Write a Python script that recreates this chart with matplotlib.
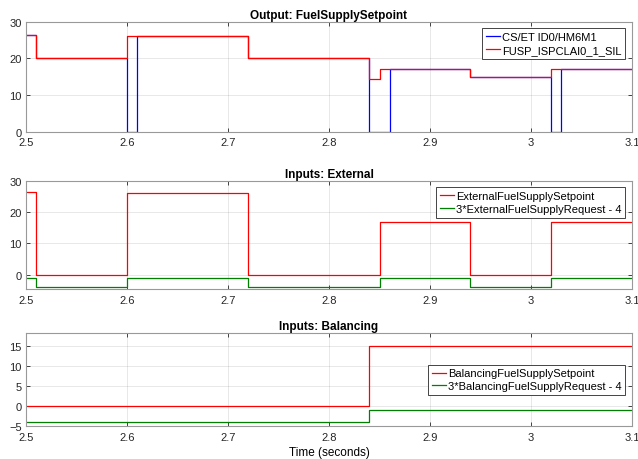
import matplotlib.pyplot as plt
import numpy as np

# step signals: breakpoints (time) and value held from each breakpoint on
t_out_ref = [2.5, 2.51, 2.6, 2.61, 2.72, 2.84, 2.86, 2.94, 3.02, 3.03, 3.1]
v_out_ref = [26.5, 20, 0, 26, 20, 0, 17, 15, 0, 17, 17]
t_out_sil = [2.5, 2.51, 2.6, 2.72, 2.84, 2.85, 2.94, 3.02, 3.1]
v_out_sil = [26.5, 20, 26, 20, 14.5, 17, 15, 17, 17]

t_ext = [2.5, 2.51, 2.6, 2.72, 2.85, 2.94, 3.02, 3.1]
v_ext_set = [26.5, 0, 26, 0, 17, 0, 17, 17]
v_ext_req = [-1, -4, -1, -4, -1, -4, -1, -1]

t_bal = [2.5, 2.84, 3.1]
v_bal_set = [0, 15, 15]
v_bal_req = [-4, -1, -1]

xticks = [2.5, 2.6, 2.7, 2.8, 2.9, 3.0, 3.1]
xlabels = ['2.5', '2.6', '2.7', '2.8', '2.9', '3', '3.1']

plt.rcParams['font.family'] = ['Liberation Sans', 'DejaVu Sans']

fig = plt.figure(figsize=(6.38, 4.6), dpi=100)
L, W = 26 / 638, 606 / 638
pos = [(22.7, 132.7), (181.7, 290), (334.3, 427.3)]
axes = [fig.add_axes([L, 1 - b / 460, W, (b - t) / 460]) for t, b in pos]

blue = (0, 0, 1)
red = (1, 0, 0)
green = (0, 0.5, 0)
dark = (0.15, 0.15, 0.15)


def style(ax, title, ylim, yticks):
    ax.set_xlim(2.5, 3.1)
    ax.set_ylim(*ylim)
    ax.set_xticks(xticks)
    ax.set_xticklabels(xlabels)
    ax.set_yticks(yticks)
    ax.set_title(title, fontsize=8.5, fontweight='bold', pad=3)
    ax.grid(True, color=dark, alpha=0.12, linewidth=0.6)
    ax.tick_params(direction='in', length=3, width=0.6, labelsize=8,
                   colors=dark, top=True, right=True)
    ax.tick_params(axis='x', pad=4)
    ax.tick_params(axis='y', pad=3)
    for s in ax.spines.values():
        s.set_color((0.6, 0.6, 0.6))
        s.set_linewidth(0.8)


def legend(ax, loc):
    leg = ax.legend(loc=loc, fontsize=8, fancybox=False, edgecolor=dark,
                    framealpha=1, borderpad=0.35, handlelength=1.3, handletextpad=0.15,
                    labelspacing=0.25, borderaxespad=0.6)
    leg.get_frame().set_linewidth(0.6)


ax = axes[0]
ax.plot(t_out_ref, v_out_ref, drawstyle='steps-post', color=blue, lw=0.9,
        label='CS/ET ID0/HM6M1')
ax.plot(t_out_sil, v_out_sil, drawstyle='steps-post', color=red, lw=0.9,
        label='FUSP_ISPCLAI0_1_SIL')
style(ax, 'Output: FuelSupplySetpoint', (0, 30), [0, 10, 20, 30])
legend(ax, 'upper right')

ax = axes[1]
ax.plot(t_ext, v_ext_set, drawstyle='steps-post', color=red, lw=0.9,
        label='ExternalFuelSupplySetpoint')
ax.plot(t_ext, v_ext_req, drawstyle='steps-post', color=green, lw=0.9,
        label='3*ExternalFuelSupplyRequest - 4')
style(ax, 'Inputs: External', (-4.5, 30), [0, 10, 20, 30])
legend(ax, 'upper right')

ax = axes[2]
ax.plot(t_bal, v_bal_set, drawstyle='steps-post', color=red, lw=0.9,
        label='BalancingFuelSupplySetpoint')
ax.plot(t_bal, v_bal_req, drawstyle='steps-post', color=green, lw=0.9,
        label='3*BalancingFuelSupplyRequest - 4')
style(ax, 'Inputs: Balancing', (-5, 18.3), [-5, 0, 5, 10, 15])
ax.set_xlabel('Time (seconds)', fontsize=8.5, labelpad=3)
legend(ax, 'center right')

fig.savefig('out.png', dpi=100)
